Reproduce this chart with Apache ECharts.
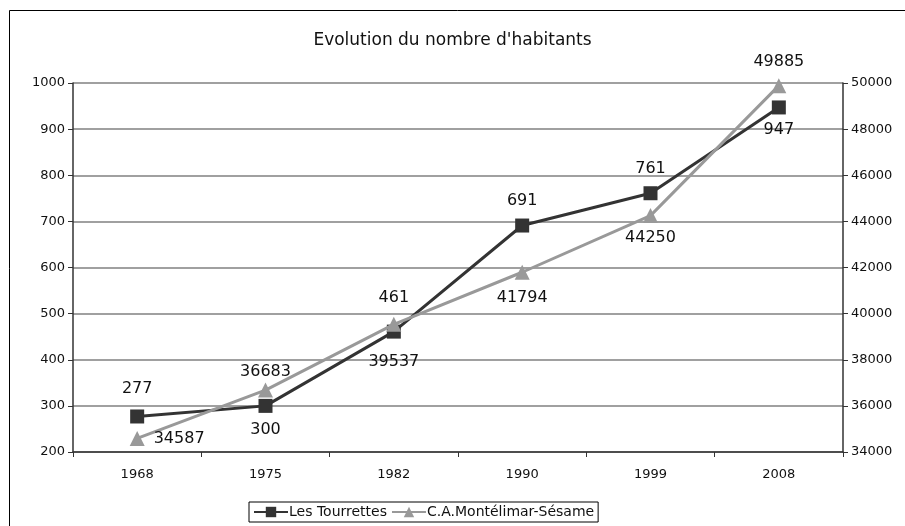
<!DOCTYPE html>
<html>
<head>
<meta charset="utf-8">
<script src="https://cdn.jsdelivr.net/npm/echarts@6/dist/echarts.min.js"></script>
<style>
  html, body { margin: 0; padding: 0; background: #fff; }
  #chart { width: 905px; height: 526px; }
</style>
</head>
<body>
<div id="chart"></div>
<script>
// Census years and population counts
const years = ['1968', '1975', '1982', '1990', '1999', '2008'];
const tourrettes = [277, 300, 461, 691, 761, 947];
const montelimar = [34587, 36683, 39537, 41794, 44250, 49885];

// Label placement for each point (kept apart from the values)
const tourLabelPos = ['top', 'bottom', 'top', 'top', 'top', 'bottom'];
const tourLabelDist = [13, 9, 19, 10, 9, 7];
const monLabelPos = ['right', 'top', 'bottom', 'bottom', 'bottom', 'top'];
const monLabelDist = [9, 3, 22, 10, 7, 8];

const FONT = '"DejaVu Sans", Verdana, sans-serif';

function withLabels(values, pos, dist) {
  return values.map((v, i) => ({
    value: v,
    label: { position: pos[i], distance: dist[i] }
  }));
}

const plain = v => String(v);

const chart = echarts.init(document.getElementById('chart'));
chart.setOption({
  animation: false,
  backgroundColor: '#fff',
  textStyle: { fontFamily: FONT },
  title: {
    text: "Evolution du nombre d'habitants",
    left: 'center',
    top: 27,
    textStyle: { fontFamily: FONT, fontSize: 17, fontWeight: 'normal', color: '#111' }
  },
  graphic: [{
    type: 'rect',
    shape: { x: 9.5, y: 10.5, width: 905, height: 530 },
    style: { fill: 'none', stroke: '#000', lineWidth: 1 },
    silent: true
  }],
  grid: { left: 73, right: 62, top: 83, bottom: 74 },
  legend: {
    bottom: 4,
    left: 249,
    itemGap: 4,
    itemWidth: 34,
    itemHeight: 13,
    padding: [3, 4, 3, 4],
    borderColor: '#000',
    borderWidth: 1,
    textStyle: { fontFamily: FONT, fontSize: 14, color: '#111', padding: [0, 0, 0, -4] },
    data: ['Les Tourrettes', 'C.A.Montélimar-Sésame']
  },
  xAxis: {
    type: 'category',
    data: years,
    boundaryGap: true,
    axisLine: { lineStyle: { color: '#333', width: 1.5 } },
    axisTick: { show: true, length: 5, inside: false, lineStyle: { color: '#333' } },
    axisLabel: { fontFamily: FONT, fontSize: 13, color: '#111', margin: 16 }
  },
  yAxis: [{
    type: 'value',
    min: 200, max: 1000, interval: 100,
    axisLine: { show: true, lineStyle: { color: '#333', width: 1.5 } },
    axisTick: { show: true, length: 5, lineStyle: { color: '#333' } },
    axisLabel: { fontFamily: FONT, fontSize: 13, color: '#111', margin: 8, formatter: plain },
    splitLine: { show: true, lineStyle: { color: '#808080', width: 1.5 } }
  }, {
    type: 'value',
    min: 34000, max: 50000, interval: 2000,
    position: 'right',
    axisLine: { show: true, lineStyle: { color: '#333', width: 1.5 } },
    axisTick: { show: true, length: 5, lineStyle: { color: '#333' } },
    axisLabel: { fontFamily: FONT, fontSize: 13, color: '#111', margin: 8, formatter: plain },
    splitLine: { show: false }
  }],
  series: [{
    name: 'Les Tourrettes',
    type: 'line',
    yAxisIndex: 0,
    data: withLabels(tourrettes, tourLabelPos, tourLabelDist),
    symbol: 'rect',
    symbolSize: 14,
    z: 3,
    lineStyle: { color: '#333333', width: 3 },
    itemStyle: { color: '#333333' },
    label: { show: true, fontFamily: FONT, fontSize: 16, color: '#111' }
  }, {
    name: 'C.A.Montélimar-Sésame',
    type: 'line',
    yAxisIndex: 1,
    data: withLabels(montelimar, monLabelPos, monLabelDist),
    symbol: 'triangle',
    symbolSize: 15,
    z: 4,
    lineStyle: { color: '#999999', width: 3 },
    itemStyle: { color: '#999999' },
    label: { show: true, fontFamily: FONT, fontSize: 16, color: '#111' }
  }]
});
</script>
</body>
</html>
